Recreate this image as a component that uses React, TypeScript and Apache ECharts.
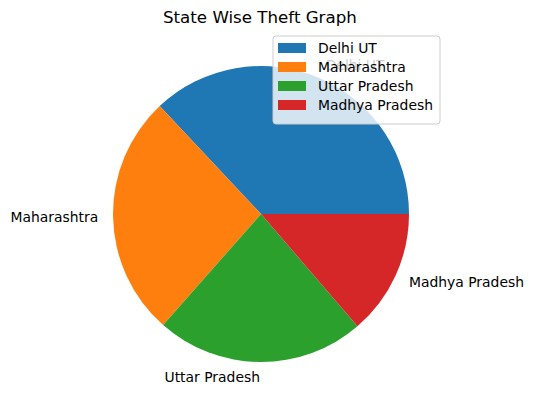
import React, { useEffect, useRef } from "react";
import * as echarts from "echarts";

const categories = ["Delhi UT", "Maharashtra", "Uttar Pradesh", "Madhya Pradesh"];
const values = [37, 26.5, 22.8, 13.7];
const colors = ["#1f77b4", "#ff7f0e", "#2ca02c", "#d62728"];
const titleText = "State Wise Theft Graph";

export default function App() {
  const ref = useRef<HTMLDivElement>(null);
  useEffect(() => {
    if (!ref.current) return;
    const chart = echarts.init(ref.current, null, { renderer: "svg" });
    const font = "DejaVu Sans";
    chart.setOption({
      animation: false,
      backgroundColor: "#ffffff",
      color: colors,
      title: {
        text: titleText,
        left: 163,
        top: 7,
        padding: 0,
        textStyle: { fontFamily: font, fontSize: 16.67, fontWeight: "normal", color: "#000000", lineHeight: 20 },
      },
      legend: {
        orient: "vertical",
        left: 273,
        top: 36,
        padding: [4, 7, 11, 5],
        itemWidth: 28,
        itemHeight: 10,
        itemGap: 3,
        icon: "rect",
        borderColor: "#cccccc",
        borderWidth: 1,
        borderRadius: 3,
        backgroundColor: "rgba(255,255,255,0.8)",
        selectedMode: false,
        textStyle: { fontFamily: font, fontSize: 13.9, color: "#000000", lineHeight: 16, padding: [0, 0, 0, 7] },
        data: categories,
      },
      series: [
        {
          type: "pie",
          center: [261, 214],
          radius: 148,
          startAngle: 0,
          clockwise: false,
          avoidLabelOverlap: false,
          silent: true,
          emphasis: { disabled: true },
          itemStyle: { borderWidth: 0 },
          label: {
            show: true,
            position: "outside",
            fontFamily: font,
            fontSize: 13.9,
            color: "#000000",
            distanceToLabelLine: 0,
            formatter: "{b}",
          },
          labelLine: { show: false, length: 14.8, length2: 0 },
          data: categories.map((c, i) => ({ name: c, value: values[i] })),
        },
      ],
    });
    return () => chart.dispose();
  }, []);
  return <div ref={ref} style={{ position: "fixed", left: 0, top: 0, width: 534, height: 409 }} />;
}
